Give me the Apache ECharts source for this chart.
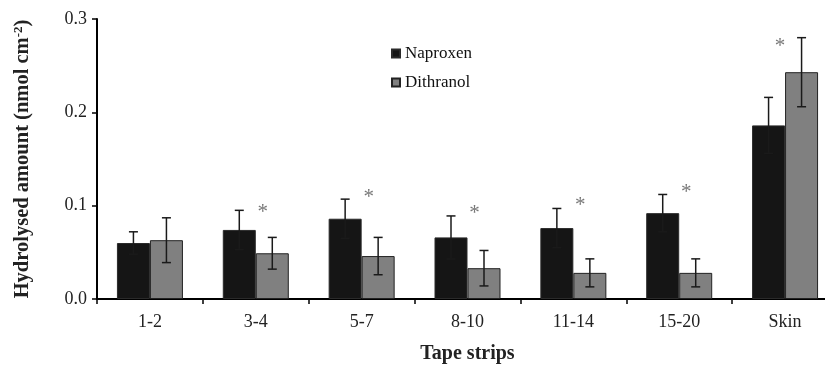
<!DOCTYPE html>
<html>
<head>
<meta charset="utf-8">
<script src="https://cdn.jsdelivr.net/npm/echarts@6/dist/echarts.min.js"></script>
<style>
  html, body { margin: 0; padding: 0; background: #fff; }
  #chart { width: 825px; height: 366px; }
</style>
</head>
<body>
<div id="chart"></div>
<script>
// data
const categories = ["1-2", "3-4", "5-7", "8-10", "11-14", "15-20", "Skin"];
const naproxen = [0.060, 0.074, 0.086, 0.066, 0.076, 0.092, 0.186];
const naproxenErr = [0.012, 0.021, 0.021, 0.023, 0.021, 0.020, 0.030];
const dithranol = [0.063, 0.049, 0.046, 0.033, 0.028, 0.028, 0.243];
const dithranolErr = [0.024, 0.017, 0.020, 0.019, 0.015, 0.015, 0.037];
// height of the significance stars (null = none)
const stars = [null, 0.097, 0.113, 0.096, 0.105, 0.118, 0.275];

const FONT = "Liberation Serif";
const BAR_W = 33;

const chart = echarts.init(document.getElementById("chart"));

// error bar drawn at the bar's center (shift = offset from category center)
const errorBars = (values, errs, shift) => ({
  type: "custom",
  silent: true,
  z: 5,
  encode: { x: 0, y: [1, 2] },
  data: values.map((v, i) => [i, v - errs[i], v + errs[i]]),
  renderItem: (params, api) => {
    const lo = api.coord([api.value(0), api.value(1)]);
    const hi = api.coord([api.value(0), api.value(2)]);
    const x = lo[0] + shift;
    const cap = 4.5;
    const style = { stroke: "#1a1a1a", lineWidth: 1.5 };
    return {
      type: "group",
      children: [
        { type: "line", shape: { x1: x, y1: lo[1], x2: x, y2: hi[1] }, style },
        { type: "line", shape: { x1: x - cap, y1: hi[1], x2: x + cap, y2: hi[1] }, style },
        { type: "line", shape: { x1: x - cap, y1: lo[1], x2: x + cap, y2: lo[1] }, style },
      ],
    };
  },
});

const starData = [];
stars.forEach((v, i) => {
  if (v == null) return;
  starData.push({
    value: [i, v],
    label: { offset: [i === stars.length - 1 ? -5 : 7, 4] },
  });
});

const option = {
  animation: false,
  backgroundColor: "#fff",
  textStyle: { fontFamily: FONT },
  legend: {
    data: ["Naproxen", "Dithranol"],
    orient: "vertical",
    icon: "rect",
    left: 386,
    top: 40,
    itemWidth: 8,
    itemHeight: 8,
    itemGap: 12,
    textStyle: { fontFamily: FONT, fontSize: 17, color: "#111" },
  },
  grid: {
    left: 97,
    right: -13,
    top: 19,
    bottom: 67,
    outerBoundsMode: "none",
  },
  xAxis: {
    type: "category",
    data: categories,
    axisLine: { lineStyle: { color: "#000", width: 2 } },
    axisTick: { show: true, length: 5, lineStyle: { color: "#000", width: 1.5 } },
    axisLabel: { margin: 14, fontSize: 18, color: "#222", fontFamily: FONT },
    name: "Tape strips",
    nameLocation: "middle",
    nameGap: 45,
    nameTextStyle: { fontSize: 20, fontWeight: "bold", color: "#222", fontFamily: FONT },
  },
  yAxis: {
    type: "value",
    min: 0,
    max: 0.3,
    interval: 0.1,
    splitLine: { show: false },
    axisLine: { show: true, lineStyle: { color: "#000", width: 2 } },
    axisTick: { show: true, length: 5, lineStyle: { color: "#000", width: 1.5 } },
    axisLabel: {
      margin: 10,
      fontSize: 18,
      color: "#222",
      fontFamily: FONT,
      formatter: (v) => v.toFixed(1),
    },
    name: "Hydrolysed amount (nmol cm{sup|-2})",
    nameLocation: "middle",
    nameGap: 64,
    nameTextStyle: {
      fontSize: 20.5,
      fontWeight: "bold",
      color: "#222",
      fontFamily: FONT,
      rich: {
        sup: { fontSize: 13, fontWeight: "bold", fontFamily: FONT, color: "#222", verticalAlign: "top", padding: [0, 0, 8, 0] },
      },
    },
  },
  series: [
    {
      name: "Naproxen",
      type: "bar",
      data: naproxen,
      barWidth: BAR_W,
      barGap: "0%",
      itemStyle: { color: "#151515", borderColor: "#2a2a2a", borderWidth: 1 },
    },
    {
      name: "Dithranol",
      type: "bar",
      data: dithranol,
      barWidth: BAR_W,
      barGap: "0%",
      itemStyle: { color: "#808080", borderColor: "#222", borderWidth: 1 },
    },
    errorBars(naproxen, naproxenErr, -BAR_W / 2),
    errorBars(dithranol, dithranolErr, BAR_W / 2),
    {
      type: "scatter",
      silent: true,
      symbolSize: 0,
      data: starData,
      label: {
        show: true,
        position: "inside",
        formatter: "*",
        fontSize: 21,
        color: "#555",
        fontFamily: FONT,
      },
    },
  ],
};

chart.setOption(option);
</script>
</body>
</html>
